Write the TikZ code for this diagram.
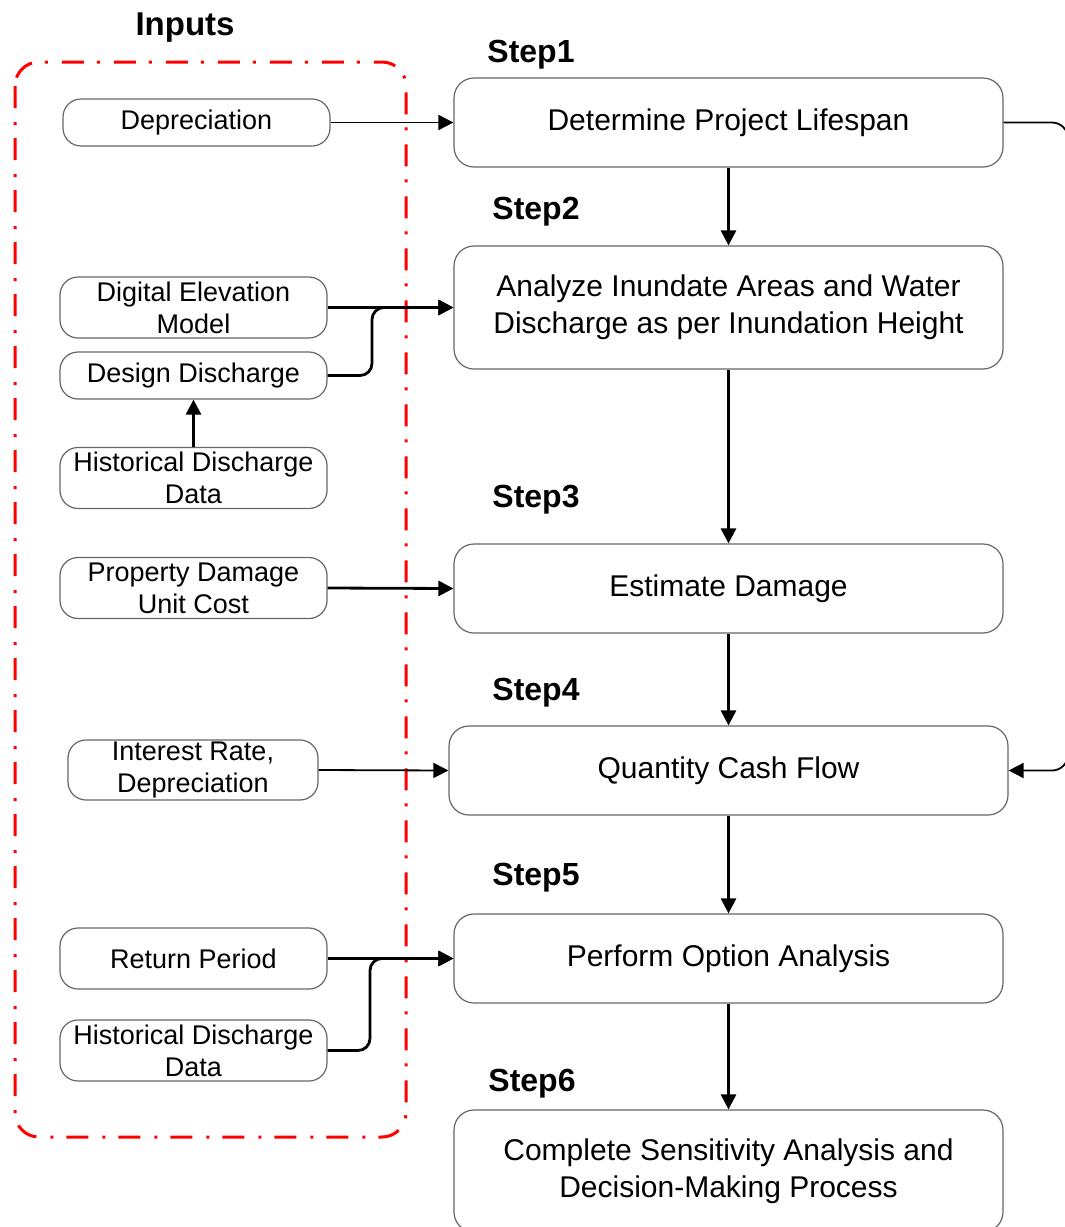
\documentclass[tikz,border=0pt]{standalone}
\usepackage{fontspec}
\setmainfont{Liberation Sans}
\usetikzlibrary{arrows.meta}
\begin{document}
\begin{tikzpicture}[x=0.5pt,y=-0.5pt,
 inbox/.style={draw=black!60, line width=0.6pt, rounded corners=9pt, minimum width=133.5pt, align=center, font=\fontsize{13.5}{16}\selectfont, inner sep=0pt},
 mainbox/.style={draw=black!60, line width=0.6pt, rounded corners=10pt, minimum width=274.5pt, minimum height=44.5pt, align=center, font=\fontsize{15}{18.5}\selectfont, inner sep=0pt},
 steplbl/.style={font=\bfseries\fontsize{16}{19}\selectfont},
 arr/.style={-{Triangle[length=7.5pt,width=7.5pt]}, line width=1.4pt},
 thinarr/.style={-{Triangle[length=7.5pt,width=7.5pt]}, line width=0.9pt}]
\useasboundingbox (0,0) rectangle (1065,1227);
% inputs frame
\draw[red, line width=1.5pt, dash pattern=on 11pt off 7pt on 1.5pt off 6.5pt, rounded corners=12pt] (15,62) rectangle (406,1137);
\node[steplbl, font=\bfseries\fontsize{16.5}{19}\selectfont] (inl) at (185,28) {Inputs};
% input boxes
\node[inbox, minimum height=23.5pt] (dep) at (196.5,122.5) {Depreciation};
\node[inbox, minimum height=30.5pt] (dem) at (193.5,307.5) {Digital Elevation\\Model};
\node[inbox, minimum height=23.5pt] (dd) at (193.5,375.5) {Design Discharge};
\node[inbox, minimum height=30.5pt] (hd1) at (193.5,478) {Historical Discharge\\Data};
\node[inbox, minimum height=30.5pt] (pd) at (193.5,588) {Property Damage\\Unit Cost};
\node[inbox, minimum height=30pt, minimum width=125pt] (ir) at (193,770) {Interest Rate,\\Depreciation};
\node[inbox, minimum height=30.5pt] (rp) at (193.5,958.5) {Return Period};
\node[inbox, minimum height=30.5pt] (hd2) at (193.5,1050.5) {Historical Discharge\\Data};
% main boxes
\node[mainbox] (s1) at (728.5,122.5) {Determine Project Lifespan};
\node[mainbox, minimum height=61.5pt] (s2) at (728.5,307.5) {Analyze Inundate Areas and Water\\Discharge as per Inundation Height};
\node[mainbox] (s3) at (728.5,588.5) {Estimate Damage};
\node[mainbox, minimum width=279.5pt] (s4) at (728.5,770.5) {Quantity Cash Flow};
\node[mainbox] (s5) at (728.5,958.5) {Perform Option Analysis};
\node[mainbox, minimum height=61pt] (s6) at (728.5,1171) {Complete Sensitivity Analysis and\\Decision-Making Process};
% step labels
\node[steplbl] (l1) at (531,55) {Step1};
\node[steplbl] (l2) at (536,212) {Step2};
\node[steplbl] (l3) at (536,500) {Step3};
\node[steplbl] (l4) at (536,693) {Step4};
\node[steplbl] (l5) at (536,878) {Step5};
\node[steplbl] (l6) at (532,1084) {Step6};
% vertical flow
\draw[arr] (s1.south) -- (s2.north);
\draw[arr] (s2.south) -- (s3.north);
\draw[arr] (s3.south) -- (s4.north);
\draw[arr] (s4.south) -- (s5.north);
\draw[arr] (s5.south) -- (s6.north);
% inputs to steps
\draw[thinarr] (dep.east) -- (s1.west);
\draw[arr] (dem.east) -- (s2.west);
\coordinate (j1) at (372,307.5);
\draw[arr, rounded corners=6pt] (dd.east) -| (j1) -- (s2.west);
\draw[arr] (hd1.north) -- (dd.south);
\draw[arr] (pd.east) -- (s3.west);
\draw[thinarr] (ir.east) -- (s4.west);
\draw[arr] (rp.east) -- (s5.west);
\coordinate (j2) at (370,958.5);
\draw[arr, rounded corners=6pt] (hd2.east) -| (j2) -- (s5.west);
% loop from step1 to step4
\coordinate (r1) at (1068,122.5);
\coordinate (r2) at (1068,770.5);
\draw[thinarr, rounded corners=8pt] (s1.east) -- (r1) -- (r2) -- (s4.east);
\end{tikzpicture}
\end{document}
